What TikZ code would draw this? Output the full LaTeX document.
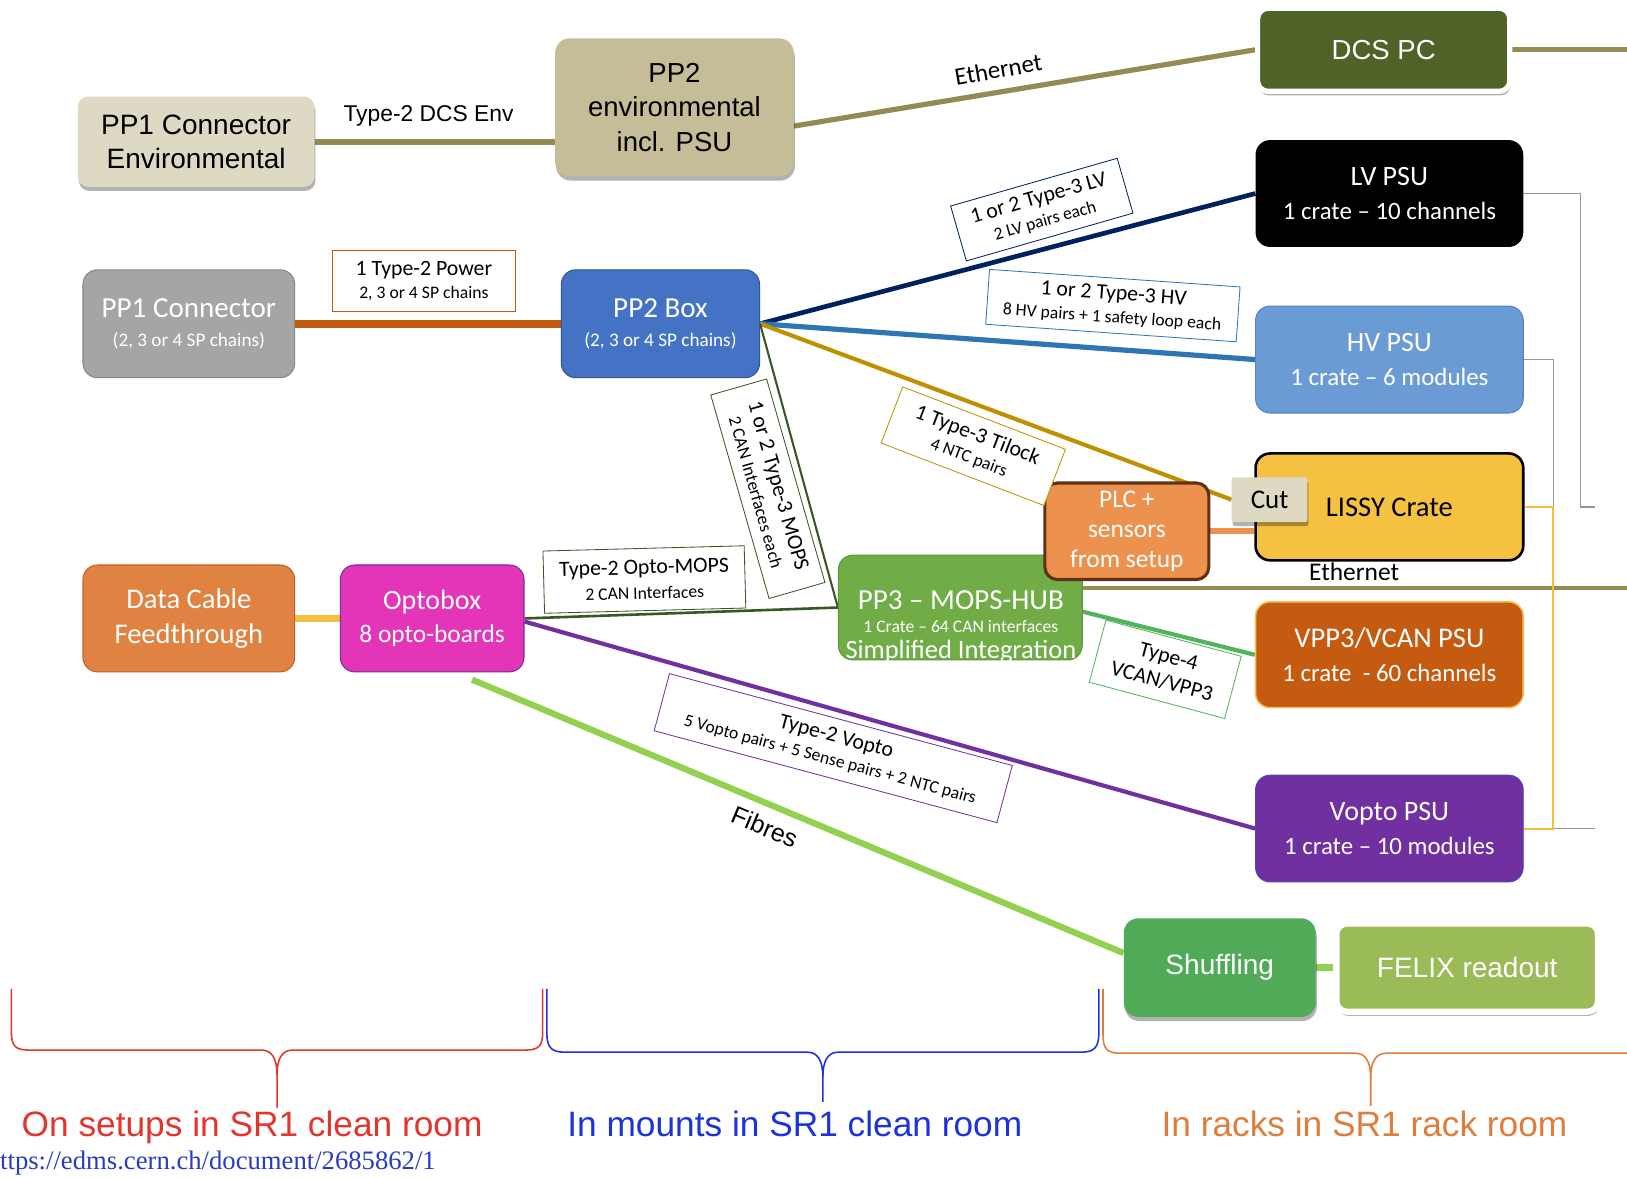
\documentclass[tikz,border=0pt]{standalone}
\usepackage{fontspec}
\setmainfont{Carlito}
\newfontfamily\arialf{Liberation Sans}
\newfontfamily\calf{Carlito}
\newfontfamily\timesf{Liberation Serif}
\usetikzlibrary{shadows,backgrounds,calc}
\newcommand\fsz[2]{\fontsize{#1pt}{#2pt}\selectfont}
\definecolor{khaki}{RGB}{148,138,84}
\definecolor{envlight}{RGB}{221,217,195}
\definecolor{envdark}{RGB}{196,189,151}
\definecolor{dcsgreen}{RGB}{79,98,40}
\definecolor{hvfill}{RGB}{106,155,212}
\definecolor{hvborder}{RGB}{84,130,200}
\definecolor{lissyfill}{RGB}{244,194,64}
\definecolor{plcfill}{RGB}{236,146,78}
\definecolor{plcborder}{RGB}{95,50,20}
\definecolor{pp3fill}{RGB}{112,173,71}
\definecolor{pp3border}{RGB}{95,150,60}
\definecolor{vppfill}{RGB}{197,90,17}
\definecolor{vppborder}{RGB}{250,190,80}
\definecolor{voptofill}{RGB}{112,48,160}
\definecolor{voptoborder}{RGB}{70,70,200}
\definecolor{shuffill}{RGB}{80,170,88}
\definecolor{felixfill}{RGB}{155,187,89}
\definecolor{pp1fill}{RGB}{165,165,165}
\definecolor{pp1border}{RGB}{135,135,135}
\definecolor{pp2fill}{RGB}{68,114,196}
\definecolor{pp2border}{RGB}{50,85,150}
\definecolor{dcffill}{RGB}{224,130,66}
\definecolor{dcfborder}{RGB}{190,100,40}
\definecolor{optofill}{RGB}{228,52,184}
\definecolor{pwrorange}{RGB}{197,90,17}
\definecolor{navyline}{RGB}{0,32,96}
\definecolor{hvline}{RGB}{46,117,182}
\definecolor{goldline}{RGB}{191,144,0}
\definecolor{dkgreen}{RGB}{56,87,35}
\definecolor{grnline}{RGB}{80,180,90}
\definecolor{yline}{RGB}{245,190,60}
\definecolor{fibre}{RGB}{146,208,80}
\definecolor{sidegray}{RGB}{150,150,150}
\definecolor{bred}{RGB}{226,53,45}
\definecolor{bblue}{RGB}{28,50,220}
\definecolor{borange}{RGB}{222,125,60}
\definecolor{urlblue}{RGB}{40,60,190}
\begin{document}
\begin{tikzpicture}[x=1pt,y=-1pt,
  box/.style={rectangle, rounded corners=14pt, align=center, inner sep=0pt, text=white},
  shadowed/.style={drop shadow={shadow xshift=1pt,shadow yshift=-4pt,opacity=0.3,fill=black}},
  psu/.style={box, minimum width=258pt, minimum height=103pt, font=\calf\fsz{24}{32}},
  lbl/.style={rectangle, draw, fill=white, align=center, inner sep=0pt, text=black, font=\calf\fsz{17}{22}, line width=0.8pt},
  conn/.style={line cap=butt}
]
\useasboundingbox (0,0) rectangle (1568,1135);
\clip (0,0) rectangle (1568,1135);

% ---------- nodes ----------
\node[box, shadowed, fill=envlight, text=black, font=\arialf\fsz{27}{33}, minimum width=228pt, minimum height=87pt, rounded corners=10pt] (pp1env) at (189,136.5) {PP1 Connector\\Environmental};
\node[box, shadowed, fill=envdark, text=black, font=\arialf\fsz{26.5}{33}, minimum width=230pt, minimum height=133pt] (pp2env) at (650,103.5) {PP2\\environmental\\incl. PSU};
\node[box, shadowed, fill=dcsgreen, draw=white, line width=5pt, font=\arialf\fsz{26.5}{32}, minimum width=243pt, minimum height=80pt, rounded corners=10pt] (dcs) at (1333.5,48) {DCS PC};

\node[psu, fill=black] (lv) at (1339,186.5) {\fsz{27}{32}LV PSU\\1 crate – 10 channels};
\node[psu, fill=hvfill, draw=hvborder, line width=1pt] (hv) at (1339,346.5) {\fsz{27}{32}HV PSU\\1 crate – 6 modules};
\node[psu, fill=lissyfill, draw=black, line width=2.5pt, text=black] (lissy) at (1339,488.5) {\fsz{27.5}{32}LISSY Crate};
\node[psu, fill=vppfill, draw=vppborder, line width=1.5pt, minimum height=102pt] (vpp3) at (1339,631) {\fsz{27.5}{32}VPP3/VCAN PSU\\1 crate\ \ - 60 channels};
\node[psu, fill=voptofill, draw=voptoborder, line width=0.8pt] (vopto) at (1339,798.5) {\fsz{27}{32}Vopto PSU\\1 crate – 10 modules};

\node[box, fill=pp3fill, draw=pp3border, line width=1pt, minimum width=235pt, minimum height=101pt] (pp3) at (925.5,585.5) {};
\node[align=center, inner sep=0pt, text=white, font=\calf\fsz{17}{24}, anchor=north] (pp3t) at (926,569) {\fsz{28}{24}PP3 – MOPS-HUB\\[-2pt]1 Crate – 64 CAN interfaces\\[1pt]\fsz{25.5}{24}Simplified Integration};

\node[box, fill=plcfill, draw=plcborder, line width=3pt, font=\calf\fsz{24.5}{29}, minimum width=158pt, minimum height=93pt, rounded corners=12pt] (plc) at (1086,512) {PLC +\\sensors\\from setup};
\node[box, shadowed, fill=envlight, text=black, font=\calf\fsz{26}{30}, minimum width=73pt, minimum height=43pt, rounded corners=2pt] (cut) at (1223.5,481.5) {Cut};

\node[box, shadowed, fill=shuffill, font=\arialf\fsz{27}{30}, minimum width=185pt, minimum height=95pt] (shuf) at (1175.5,932.5) {Shuffling};
\node[box, shadowed, fill=felixfill, draw=white, line width=6pt, font=\arialf\fsz{27}{30}, minimum width=252pt, minimum height=85pt, rounded corners=10pt] (felix) at (1414,932.5) {FELIX readout};

\node[box, fill=pp1fill, draw=pp1border, line width=1pt, font=\calf\fsz{18.5}{28}, minimum width=204pt, minimum height=104pt] (pp1) at (182,312) {\fsz{28}{28}PP1 Connector\\(2, 3 or 4 SP chains)};
\node[box, fill=pp2fill, draw=pp2border, line width=1pt, font=\calf\fsz{18.5}{28}, minimum width=191pt, minimum height=104pt] (pp2box) at (636.5,312) {\fsz{28}{28}PP2 Box\\(2, 3 or 4 SP chains)};
\node[box, fill=dcffill, draw=dcfborder, line width=1pt, font=\calf\fsz{27.5}{34}, minimum width=204pt, minimum height=103pt] (dcf) at (182,596) {Data Cable\\Feedthrough};
\node[box, fill=optofill, draw=voptofill, line width=1pt, font=\calf\fsz{24.5}{32}, minimum width=177pt, minimum height=103pt] (opto) at (416.5,596) {\fsz{27}{32}Optobox\\8 opto-boards};

% ---------- connector labels ----------
\node[font=\arialf\fsz{22}{26}] (dcsenv) at (413,112) {Type-2 DCS Env};
\node[font=\calf\fsz{24}{28}, rotate=10] (eth1) at (962,67) {Ethernet};
\node[font=\calf\fsz{24.5}{28}] (eth2) at (1305,551) {Ethernet};
\node[font=\arialf\fsz{24}{28}, rotate=-22.7] (fib) at (737,797) {Fibres};

\node[lbl, draw=pwrorange, minimum width=177pt, minimum height=59pt] (lpwr) at (408.5,270.5) {\fsz{21}{22}1 Type-2 Power\\2, 3 or 4 SP chains};
\node[lbl, draw=navyline, minimum width=167pt, minimum height=55pt, rotate=16] (llv) at (1004,202) {\fsz{21}{22}1 or 2 Type-3 LV\\2 LV pairs each};
\node[lbl, draw=hvline, minimum width=242pt, minimum height=53pt, rotate=-4] (lhv) at (1072.5,294.5) {\fsz{21}{22}1 or 2 Type-3 HV\\8 HV pairs + 1 safety loop each};
\node[lbl, draw=goldline, minimum width=168pt, minimum height=58pt, rotate=-21] (ltil) at (938,430) {\fsz{21}{22}1 Type-3 Tilock\\4 NTC pairs};
\node[lbl, draw=dkgreen, minimum width=204pt, minimum height=56pt, rotate=-74] (lmops) at (740,471) {\fsz{21}{22}1 or 2 Type-3 MOPS\\2 CAN Interfaces each};
\node[lbl, draw=dkgreen, minimum width=194pt, minimum height=60pt, rotate=1.5] (lopm) at (621,558.5) {\fsz{21}{22}Type-2 Opto-MOPS\\[2pt]2 CAN Interfaces};
\node[lbl, draw=grnline, minimum width=135pt, minimum height=62pt, rotate=-15, font=\calf\fsz{21}{25}] (lt4) at (1123,645) {Type-4\\VCAN/VPP3};
\node[lbl, draw=voptofill, minimum width=342pt, minimum height=57pt, rotate=-15] (lvop) at (803,721) {\fsz{21}{22}Type-2 Vopto\\5 Vopto pairs + 5 Sense pairs + 2 NTC pairs};

% ---------- free-end coordinates ----------
\coordinate (dcsR) at (1568,48);
\coordinate (ethR) at (1568,567);
\coordinate (fibS) at (455,655);
\coordinate (lvR) at (1523,488.5);
\coordinate (grayA) at (1537,488.5);
\coordinate (hvR) at (1497,488.5);
\coordinate (vR) at (1497,798.5);
\coordinate (grayB) at (1537,798.5);

% ---------- connectors ----------
\begin{pgfonlayer}{background}
\fill[white] (0,0) rectangle (1568,1135);
\draw[conn, khaki, line width=6pt] (pp1env.east) -- (pp1env.east -| pp2env.west);
\draw[conn, khaki, line width=5pt] ([yshift=-18pt]pp2env.east) -- (dcs.west);
\draw[conn, khaki, line width=5pt] (dcs.east) -- (dcsR);
\draw[conn, pwrorange, line width=8pt] (pp1.east) -- (pp2box.west);
\draw[conn, navyline, line width=4.5pt] (pp2box.east) -- (lv.west);
\draw[conn, hvline, line width=5pt] (pp2box.east) -- (hv.west);
\draw[conn, goldline, line width=4pt] (pp2box.east) -- (cut.west);
\draw[conn, dkgreen, line width=2pt] (pp2box.east) -- (pp3.west);
\draw[conn, dkgreen, line width=2.5pt] (opto.east) -- (pp3.west);
\draw[conn, plcfill, line width=6pt] (plc.east) -- (plc.east -| lissy.west);
\draw[conn, khaki, line width=4pt] ([yshift=18.5pt]pp3.east) -- (ethR);
\draw[conn, grnline, line width=4pt] ([yshift=-4pt]pp3.east) -- (vpp3.west);
\draw[conn, voptofill, line width=4pt] ([yshift=-3pt]opto.east) -- (vopto.west);
\draw[conn, yline, line width=7pt] (dcf.east) -- (opto.west);
\draw[conn, fibre, line width=6pt] (fibS) -- ([yshift=14pt]shuf.west);
\draw[conn, fibre, line width=6pt] (shuf.east) -- (felix.west);
\draw[sidegray, line width=1.5pt] (lv.east) -| (lvR) -- (grayA);
\draw[sidegray, line width=1.5pt] (hv.east) -| (hvR);
\draw[sidegray, line width=1.5pt] (vR) -- (grayB);
\draw[yline, line width=2pt] (lissy.east) -- (hvR) -- (vR) -- (vopto.east);
\end{pgfonlayer}

% ---------- braces ----------
\draw[bred, line width=1.5pt] (11,953) -- (11,995) .. controls (11,1008) and (15,1012) .. (28,1012) -- (252,1012) .. controls (262,1012) and (267,1020) .. (267,1036) -- (267,1068);
\draw[bred, line width=1.5pt] (523,953) -- (523,995) .. controls (523,1008) and (519,1012) .. (506,1012) -- (282,1012) .. controls (272,1012) and (267,1020) .. (267,1036);
\draw[bblue, line width=1.5pt] (527,953) -- (527,995) .. controls (527,1009) and (531,1014) .. (544,1014) -- (778,1014) .. controls (788,1014) and (793,1022) .. (793,1038) -- (793,1062);
\draw[bblue, line width=1.5pt] (1059,953) -- (1059,995) .. controls (1059,1009) and (1055,1014) .. (1042,1014) -- (808,1014) .. controls (798,1014) and (793,1022) .. (793,1038);
\draw[borange, line width=1.5pt] (1063,953) -- (1063,997) .. controls (1063,1011) and (1067,1015) .. (1080,1015) -- (1306,1015) .. controls (1316,1015) and (1321,1023) .. (1321,1039) -- (1321,1066);
\draw[borange, line width=1.5pt] (1575,1015) -- (1336,1015) .. controls (1326,1015) and (1321,1023) .. (1321,1039);

\node[font=\arialf\fsz{34}{38}, text=bred] (t1) at (243,1086) {On setups in SR1 clean room};
\node[font=\arialf\fsz{34}{38}, text=bblue] (t2) at (766,1083) {In mounts in SR1 clean room};
\node[font=\arialf\fsz{34}{38}, text=borange] (t3) at (1315,1083) {In racks in SR1 rack room};
\node[anchor=west, inner sep=0pt, font=\timesf\fsz{25.7}{28}, text=urlblue] (url) at (0,1121) {ttps://edms.cern.ch/document/2685862/1};
\end{tikzpicture}
\end{document}
